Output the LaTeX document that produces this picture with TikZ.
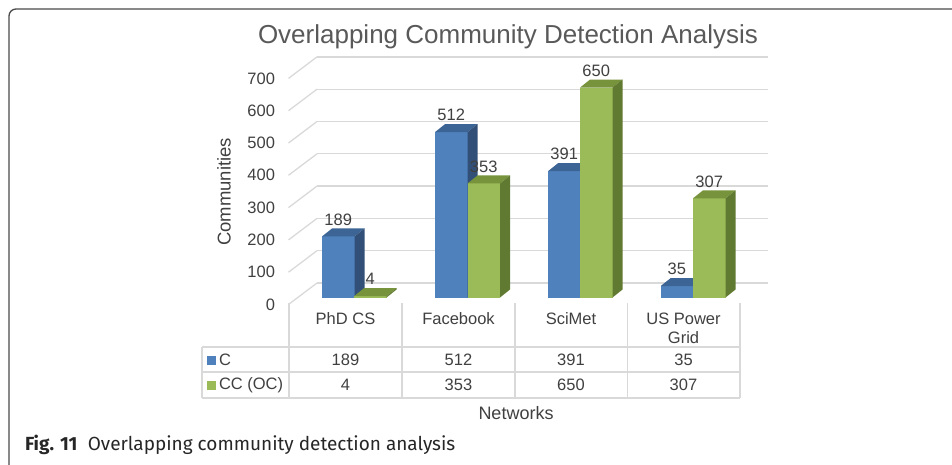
\documentclass[tikz,border=0pt]{standalone}
\usepackage{fontspec}
\setmainfont{Liberation Sans}
\newfontfamily\capfont{Fira Sans}
\definecolor{txt}{HTML}{404040}
\definecolor{ttl}{HTML}{595959}
\definecolor{grid}{HTML}{D9D9D9}
\definecolor{bfront}{HTML}{4F81BD}
\definecolor{btop}{HTML}{3C6494}
\definecolor{bside}{HTML}{324F77}
\definecolor{gfront}{HTML}{9BBB59}
\definecolor{gtop}{HTML}{77933C}
\definecolor{gside}{HTML}{617A31}
\definecolor{frame}{HTML}{4A4A4A}
\newcommand\drawbar[5]{%
  \pgfmathsetmacro\yt{297.5-#2*0.323}
  \fill[#3] (#1,297.5) rectangle (#1+32.5,\yt);
  \fill[#4] (#1,\yt) -- (#1+32.5,\yt) -- (#1+42.5,\yt-8) -- (#1+10,\yt-8) -- cycle;
  \fill[#5] (#1+32.5,\yt) -- (#1+42.5,\yt-8) -- (#1+42.5,289.5) -- (#1+32.5,297.5) -- cycle;
  \node[dlabel] at (#1+16.25,\yt-17) {#2};
}
\begin{document}
\begin{tikzpicture}[x=1pt,y=-1pt,
  every node/.style={inner sep=0pt,outer sep=0pt,text=txt},
  dlabel/.style={font=\fontsize{16.5}{18}\selectfont},
  tick/.style={font=\fontsize{16.5}{18}\selectfont,anchor=east},
  cell/.style={font=\fontsize{16.5}{18}\selectfont},
  gline/.style={draw=grid,line width=1.3pt},
  tline/.style={draw=grid,line width=1.2pt}]
\useasboundingbox (0,0) rectangle (952,465);
% frame
\draw[frame,line width=1.3pt,rounded corners=7pt] (9,470) -- (9,9) -- (960,9);
% title
\node[text=ttl,font=\fontsize{26}{29}\selectfont] (title) at (508,37) {Overlapping Community Detection Analysis};
% gridlines
\foreach \v in {0,...,7}{
  \pgfmathsetmacro\yb{283-\v*32.3}
  \draw[gline] (317,\yb) -- (768,\yb);
  \draw[gline] (317,\yb) -- (288.5,\yb+21.5);
  \pgfmathtruncatemacro\lab{\v*100}
  \node[tick] (t\v) at (275,\yb+21.5) {\lab};
}
\node[rotate=90,font=\fontsize{18.5}{20}\selectfont] (ylab) at (224,192) {Communities};
% bars
\drawbar{322}{189}{bfront}{btop}{bside}
\drawbar{354}{4}{gfront}{gtop}{gside}
\drawbar{435}{512}{bfront}{btop}{bside}
\drawbar{467.5}{353}{gfront}{gtop}{gside}
\drawbar{548}{391}{bfront}{btop}{bside}
\drawbar{580}{650}{gfront}{gtop}{gside}
\drawbar{660.5}{35}{bfront}{btop}{bside}
\drawbar{693}{307}{gfront}{gtop}{gside}
% table
\foreach \x in {289,402,515,627.5,740}{\draw[tline] (\x,303) -- (\x,398);}
\draw[tline] (202,347) -- (202,398);
\foreach \y in {347,372,398}{\draw[tline] (202,\y) -- (740,\y);}
\node[cell] (h1) at (345.5,319) {PhD CS};
\node[cell] (h2) at (458.5,319) {Facebook};
\node[cell] (h3) at (571,319) {SciMet};
\node[cell] (h4a) at (683.5,319) {US Power};
\node[cell] (h4b) at (683.5,338) {Grid};
\fill[bfront] (207,355.5) rectangle (216,364.5);
\fill[gfront] (207,380.5) rectangle (216,389.5);
\node[cell,anchor=west] (lc) at (219,360) {C};
\node[cell,anchor=west] (lcc) at (219,385) {CC (OC)};
\node[cell] at (345.5,360) {189};
\node[cell] at (458.5,360) {512};
\node[cell] at (571,360) {391};
\node[cell] at (683.5,360) {35};
\node[cell] at (345.5,385) {4};
\node[cell] at (458.5,385) {353};
\node[cell] at (571,385) {650};
\node[cell] at (683.5,385) {307};
\node[font=\fontsize{18}{20}\selectfont] (xlab) at (516,413) {Networks};
% caption
\node[anchor=west,text=black!85,font=\capfont\fontsize{19}{22}\selectfont] (cap) at (25,445) {\textbf{Fig. 11}\hspace{0.55em}Overlapping community detection analysis};
\end{tikzpicture}
\end{document}
